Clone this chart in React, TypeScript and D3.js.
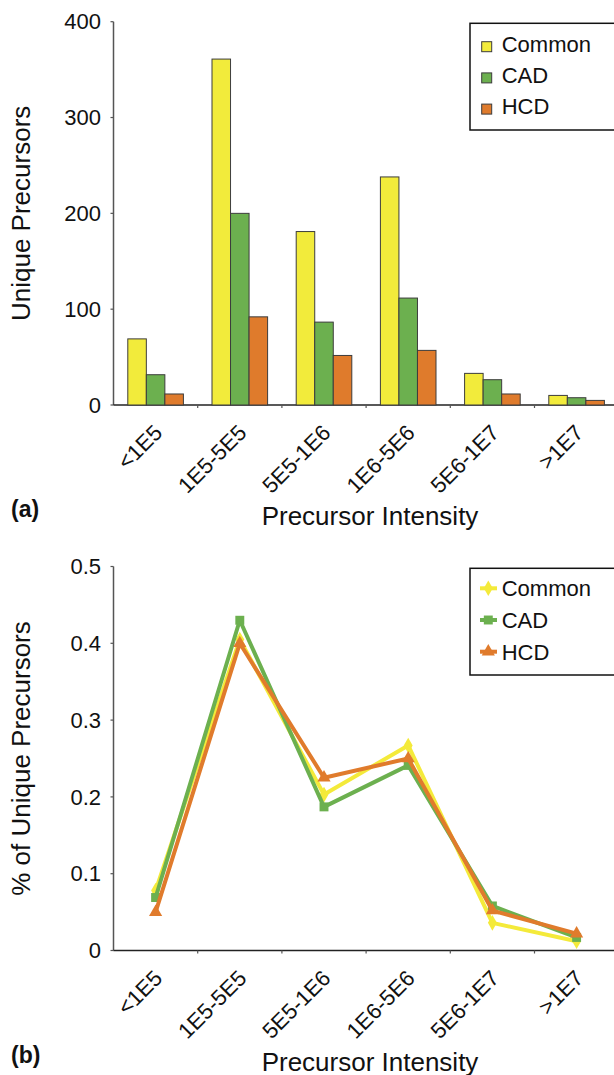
import { useEffect, useRef } from 'react';
import * as d3 from 'd3';

const categories = ['<1E5', '1E5-5E5', '5E5-1E6', '1E6-5E6', '5E6-1E7', '>1E7'];
const seriesNames = ['Common', 'CAD', 'HCD'];

// panel (a): unique precursor counts
const countCommon = [69, 361, 181, 238, 33, 10];
const countCAD = [31.6, 200, 86.5, 111.6, 26.4, 7.6];
const countHCD = [11.5, 92, 51.7, 57, 11.5, 4.8];
const countTicks = [0, 100, 200, 300, 400];

// panel (b): fraction of unique precursors
const fracCommon = [0.078, 0.405, 0.203, 0.267, 0.036, 0.012];
const fracCAD = [0.069, 0.43, 0.187, 0.241, 0.058, 0.017];
const fracHCD = [0.05, 0.4, 0.225, 0.25, 0.052, 0.022];
const fracTicks = [0, 0.1, 0.2, 0.3, 0.4, 0.5];

const barColors = ['#f2eb3b', '#6cb04f', '#df7b2c'];
const lineColors = ['#f4ea3a', '#6cb04f', '#e07b2c'];
const FONT = '"Liberation Sans", Arial, Helvetica, sans-serif';
const AXIS = '#555';

export default function App() {
    const svgRef = useRef<SVGSVGElement>(null);

    useEffect(() => {
        if (!svgRef.current) return;
        const svg = d3.select(svgRef.current);
        svg.selectAll('*').remove();

        const x0 = 113.5;
        const x = d3.scaleBand<string>().domain(categories).range([x0, 618.7]);
        const bw = x.bandwidth();

        // shared axes, labels and titles for a panel
        const frame = (y: d3.ScaleLinear<number, number>, ticks: number[], fmt: (t: number) => string,
                       yTitle: string, tag: string, tagY: number) => {
            const base = y.range()[0];
            const top = y.range()[1];
            const g = svg.append('g');

            g.append('line')
                .attr('x1', x0).attr('x2', x0).attr('y1', top).attr('y2', base)
                .attr('stroke', AXIS).attr('stroke-width', 1.5);
            for (const t of ticks) {
                g.append('line')
                    .attr('x1', x0 - 3).attr('x2', x0).attr('y1', y(t)).attr('y2', y(t))
                    .attr('stroke', AXIS).attr('stroke-width', 1.2);
                g.append('text')
                    .attr('x', 101).attr('y', y(t)).attr('dy', '0.35em')
                    .attr('text-anchor', 'end').attr('font-size', 22).attr('fill', '#111')
                    .text(fmt(t));
            }

            g.append('line')
                .attr('x1', x0).attr('x2', 614).attr('y1', base).attr('y2', base)
                .attr('stroke', '#222').attr('stroke-width', 1.5);
            for (const c of categories.slice(1)) {
                g.append('line')
                    .attr('x1', x(c)!).attr('x2', x(c)!).attr('y1', base).attr('y2', base + 3)
                    .attr('stroke', AXIS).attr('stroke-width', 1.2);
            }

            g.selectAll('.cat')
                .data(categories)
                .join('text')
                .attr('class', 'cat')
                .attr('transform', d => `translate(${x(d)! + bw / 2 + 8},${base + 29}) rotate(-45)`)
                .attr('text-anchor', 'end').attr('font-size', 22).attr('fill', '#111')
                .text(d => d);

            g.append('text')
                .attr('transform', `translate(30,${(top + base) / 2}) rotate(-90)`)
                .attr('text-anchor', 'middle').attr('font-size', 26).attr('fill', '#111')
                .text(yTitle);

            g.append('text')
                .attr('x', 370).attr('y', base + 120)
                .attr('text-anchor', 'middle').attr('font-size', 26).attr('fill', '#111')
                .text('Precursor Intensity');

            g.append('text')
                .attr('x', 11).attr('y', tagY)
                .attr('font-size', 23).attr('font-weight', 'bold').attr('fill', '#111')
                .text(tag);
        };

        // ---- (a) grouped bars
        const yA = d3.scaleLinear().domain([0, 400]).range([405, 21.7]);
        frame(yA, countTicks, t => String(t), 'Unique Precursors', '(a)', 517);

        const inner = d3.scaleBand<string>().domain(seriesNames).range([14.3, bw - 14.3]);
        const counts = [countCommon, countCAD, countHCD];
        const rows = categories.flatMap((c, i) => seriesNames.map((s, j) => ({ c, s, j, v: counts[j][i] })));
        svg.append('g').selectAll('rect')
            .data(rows)
            .join('rect')
            .attr('x', d => x(d.c)! + inner(d.s)!)
            .attr('y', d => yA(d.v))
            .attr('width', inner.bandwidth())
            .attr('height', d => yA(0) - yA(d.v))
            .attr('fill', d => barColors[d.j])
            .attr('stroke', '#3c3c3c').attr('stroke-width', 1);

        const legA = svg.append('g');
        legA.append('rect').attr('x', 470).attr('y', 23.3).attr('width', 200).attr('height', 106.7)
            .attr('fill', '#fff').attr('stroke', '#111').attr('stroke-width', 1.5);
        seriesNames.forEach((s, j) => {
            const by = 51.7 + j * 31.2;
            legA.append('rect').attr('x', 481.7).attr('y', by - 10).attr('width', 10).attr('height', 10)
                .attr('fill', barColors[j]).attr('stroke', '#3c3c3c').attr('stroke-width', 1);
            legA.append('text').attr('x', 501.7).attr('y', by)
                .attr('font-size', 22).attr('fill', '#111').text(s);
        });

        // ---- (b) lines with markers
        const yB = d3.scaleLinear().domain([0, 0.5]).range([950.5, 566.5]);
        frame(yB, fracTicks, t => (t === 0 ? '0' : d3.format('.1f')(t)), '% of Unique Precursors', '(b)', 1063);

        const fracs = [fracCommon, fracCAD, fracHCD];
        const symbols = [
            d3.symbol().type(d3.symbolDiamond).size(70),
            d3.symbol().type(d3.symbolSquare).size(80),
            d3.symbol().type(d3.symbolTriangle).size(75),
        ];
        const line = d3.line<number>()
            .x((_, i) => x(categories[i])! + bw / 2)
            .y(d => yB(d));

        fracs.forEach((vals, j) => {
            const g = svg.append('g');
            g.append('path').attr('d', line(vals)!)
                .attr('fill', 'none').attr('stroke', lineColors[j]).attr('stroke-width', 4)
                .attr('stroke-linejoin', 'round');
            g.selectAll('path.pt')
                .data(vals)
                .join('path')
                .attr('class', 'pt')
                .attr('transform', (d, i) => `translate(${x(categories[i])! + bw / 2},${yB(d)})`)
                .attr('d', symbols[j]()!)
                .attr('fill', lineColors[j]);
        });

        const legB = svg.append('g');
        legB.append('rect').attr('x', 470).attr('y', 568.3).attr('width', 200).attr('height', 106.7)
            .attr('fill', '#fff').attr('stroke', '#111').attr('stroke-width', 1.5);
        seriesNames.forEach((s, j) => {
            const cy = 588.3 + j * 31.7;
            legB.append('line').attr('x1', 480).attr('x2', 497).attr('y1', cy).attr('y2', cy)
                .attr('stroke', lineColors[j]).attr('stroke-width', 4);
            legB.append('path').attr('transform', `translate(488.3,${cy})`)
                .attr('d', symbols[j]()!).attr('fill', lineColors[j]);
            legB.append('text').attr('x', 501.7).attr('y', cy + 8)
                .attr('font-size', 22).attr('fill', '#111').text(s);
        });
    }, []);

    return (
        <svg
            ref={svgRef}
            width={614}
            height={1075}
            style={{ position: 'absolute', left: 0, top: 0, background: '#fff', fontFamily: FONT }}
        />
    );
}
